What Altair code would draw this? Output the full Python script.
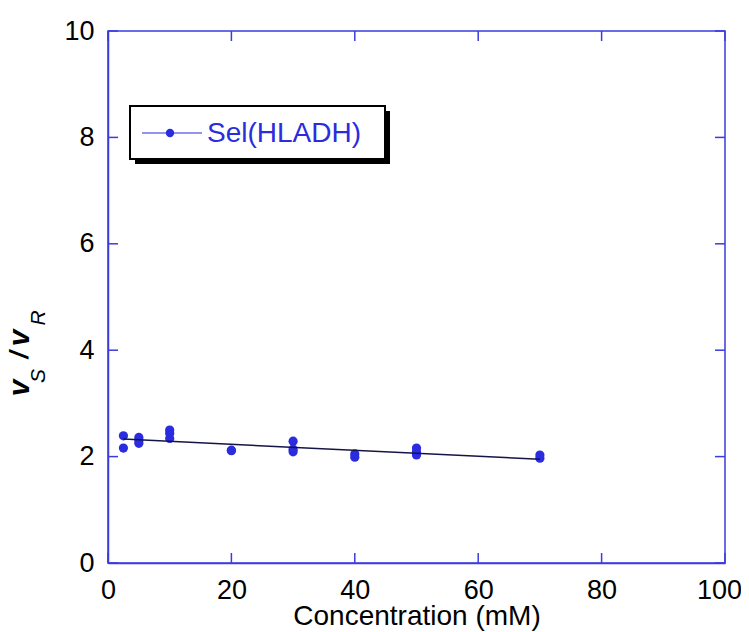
import altair as alt
import pandas as pd

# data
conc = [2.5, 2.5, 5, 5, 5, 10, 10, 10, 20, 20, 30, 30, 30, 40, 40, 50, 50, 50, 70, 70]
ratio = [2.39, 2.16, 2.36, 2.30, 2.25, 2.50, 2.44, 2.34, 2.11, 2.12, 2.29, 2.14, 2.09, 2.05, 1.99, 2.16, 2.09, 2.03, 2.03, 1.97]
fit_x = [2.5, 70]
fit_y = [2.33, 1.95]
x_ticks = [0, 20, 40, 60, 80, 100]
y_ticks = [0, 2, 4, 6, 8, 10]
series_name = "Sel(HLADH)"

W, H = 617, 532
BLUE = "#2b2be0"
AXIS_BLUE = "#3b3be0"
FONT = "Liberation Sans"

pts = pd.DataFrame({"x": conc, "y": ratio})
fit = pd.DataFrame({"x": fit_x, "y": fit_y})
xt = pd.DataFrame({"x": x_ticks})
yt = pd.DataFrame({"y": y_ticks})

xs = alt.Scale(domain=[0, 100], nice=False, zero=False)
ys = alt.Scale(domain=[0, 10], nice=False, zero=False)

x_axis = alt.Axis(values=x_ticks, ticks=False, grid=False, domainColor=AXIS_BLUE, domainWidth=1.5,
                  labelFont=FONT, labelFontSize=27, labelColor="black", labelPadding=14,
                  labelFlush=False, labelOverlap=False,
                  labelOffset={"condition": {"test": "datum.value == 100", "value": -6}, "value": 0},
                  title="Concentration (mM)", titleFont=FONT, titleFontSize=28,
                  titleFontWeight="normal", titleColor="black", titlePadding=-1)
y_axis = alt.Axis(values=y_ticks, ticks=False, grid=False, domainColor=AXIS_BLUE, domainWidth=1.5,
                  labelFont=FONT, labelFontSize=27, labelColor="black", labelPadding=14,
                  labelFlush=False, labelOverlap=False,
                  title=None)

base_pts = alt.Chart(pts).mark_point(filled=True, shape="circle", size=85, color=BLUE, opacity=1).encode(
    x=alt.X("x:Q", scale=xs, axis=x_axis),
    y=alt.Y("y:Q", scale=ys, axis=y_axis),
)

line = alt.Chart(fit).mark_line(color="#151545", strokeWidth=1.5).encode(
    x=alt.X("x:Q", scale=xs), y=alt.Y("y:Q", scale=ys)
)

tick_len = 10
xb = alt.Chart(xt).mark_rule(color=AXIS_BLUE, strokeWidth=1.5).encode(
    x=alt.X("x:Q", scale=xs), y=alt.value(H), y2=alt.value(H - tick_len))
xtop = alt.Chart(xt).mark_rule(color=AXIS_BLUE, strokeWidth=1.5).encode(
    x=alt.X("x:Q", scale=xs), y=alt.value(0), y2=alt.value(tick_len))
yl = alt.Chart(yt).mark_rule(color=AXIS_BLUE, strokeWidth=1.5).encode(
    y=alt.Y("y:Q", scale=ys), x=alt.value(0), x2=alt.value(tick_len))
yr = alt.Chart(yt).mark_rule(color=AXIS_BLUE, strokeWidth=1.5).encode(
    y=alt.Y("y:Q", scale=ys), x=alt.value(W), x2=alt.value(W - tick_len))

one = pd.DataFrame({"a": [0]})

# y-axis title pieces: v_S / v_R (rotated)
def tpiece(txt, x, y, size, italic=True, bold=True):
    return alt.Chart(one).mark_text(
        text=txt, angle=270, font=FONT, fontSize=size,
        fontStyle="italic" if italic else "normal",
        fontWeight="bold" if bold else "normal",
        align="center", baseline="middle", color="black"
    ).encode(x=alt.value(x), y=alt.value(y))

ytitle = [
    tpiece("v", -88, 357, 30),
    tpiece("S", -69, 345, 21, italic=True, bold=False),
    tpiece("/", -88, 324, 26),
    tpiece("v", -88, 307, 30),
    tpiece("R", -69, 287, 21, italic=True, bold=False),
]

# legend box with shadow
shadow = alt.Chart(one).mark_rect(color="black").encode(
    x=alt.value(27), x2=alt.value(282), y=alt.value(80), y2=alt.value(133))
box = alt.Chart(one).mark_rect(fill="white", stroke="black", strokeWidth=2).encode(
    x=alt.value(22), x2=alt.value(277), y=alt.value(75), y2=alt.value(128))
leg_line = alt.Chart(one).mark_rule(color=BLUE, strokeWidth=1.2).encode(
    x=alt.value(34), x2=alt.value(94), y=alt.value(102))
leg_pt = alt.Chart(one).mark_point(filled=True, shape="circle", size=70, color=BLUE, opacity=1).encode(
    x=alt.value(62), y=alt.value(102))
leg_txt = alt.Chart(one).mark_text(text=series_name, font=FONT, fontSize=28, color=BLUE,
                                   align="left", baseline="middle").encode(
    x=alt.value(99), y=alt.value(103))

chart = alt.layer(
    base_pts, line, xb, xtop, yl, yr, *ytitle, shadow, box, leg_line, leg_pt, leg_txt
).properties(
    width=W, height=H,
    autosize=alt.AutoSizeParams(type="none"),
    padding={"left": 100, "top": 23, "right": 16, "bottom": 68},
    background="white",
).configure_view(stroke=AXIS_BLUE, strokeWidth=1.5)

chart.save("out.html", embed_options={"renderer": "svg", "actions": False})
